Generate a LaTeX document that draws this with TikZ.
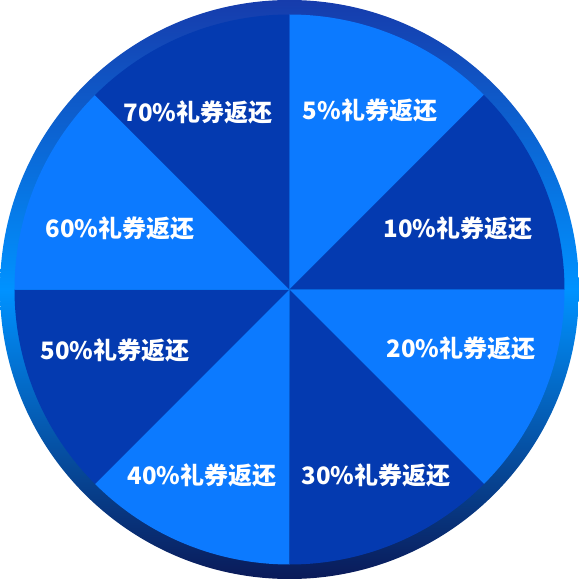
\documentclass[tikz,border=0pt]{standalone}
\usepackage{fontspec}
\newfontfamily\cjk{Noto Sans CJK SC}
\definecolor{seglight}{RGB}{12,122,255}
\definecolor{segdark}{RGB}{4,58,176}
\definecolor{ringtop}{RGB}{22,60,172}
\definecolor{ringmid}{RGB}{0,146,255}
\definecolor{ringbot}{RGB}{10,26,88}
\pgfdeclareverticalshading{ringshade}{100bp}{color(0bp)=(ringbot); color(25bp)=(ringbot); color(50bp)=(ringmid); color(75bp)=(ringtop); color(100bp)=(ringtop)}
\tikzset{
  lbl/.style={text=white, font=\cjk\bfseries\fontsize{24}{24}\selectfont, inner sep=0pt},
  light/.style={fill=seglight},
  darkseg/.style={fill=segdark}
}
\begin{document}
\begin{tikzpicture}
\useasboundingbox (-289.5pt,-289.5pt) rectangle (289.5pt,289.5pt);
\shade[shading=ringshade] (0,0) circle[radius=289.5pt];
\coordinate (c) at (0,0);
\fill[light]   (c) -- (90:275pt) arc[start angle=90, end angle=45, radius=275pt] -- cycle;
\fill[darkseg] (c) -- (45:275pt) arc[start angle=45, end angle=0, radius=275pt] -- cycle;
\fill[light]   (c) -- (0:275pt) arc[start angle=0, end angle=-45, radius=275pt] -- cycle;
\fill[darkseg] (c) -- (-45:275pt) arc[start angle=-45, end angle=-90, radius=275pt] -- cycle;
\fill[light]   (c) -- (-90:275pt) arc[start angle=-90, end angle=-135, radius=275pt] -- cycle;
\fill[darkseg] (c) -- (-135:275pt) arc[start angle=-135, end angle=-180, radius=275pt] -- cycle;
\fill[light]   (c) -- (180:275pt) arc[start angle=180, end angle=135, radius=275pt] -- cycle;
\fill[darkseg] (c) -- (135:275pt) arc[start angle=135, end angle=90, radius=275pt] -- cycle;
\node[lbl] (p5)  at (80.5pt,179.5pt)   {5\%礼券返还};
\node[lbl] (p10) at (168.5pt,61.5pt)   {10\%礼券返还};
\node[lbl] (p20) at (171.5pt,-58.5pt)  {20\%礼券返还};
\node[lbl] (p30) at (86.5pt,-185.5pt)  {30\%礼券返还};
\node[lbl] (p40) at (-87.5pt,-185.5pt) {40\%礼券返还};
\node[lbl] (p50) at (-174.5pt,-60.5pt) {50\%礼券返还};
\node[lbl] (p60) at (-169.5pt,61.5pt)  {60\%礼券返还};
\node[lbl] (p70) at (-91.5pt,177.5pt)  {70\%礼券返还};
\end{tikzpicture}
\end{document}
